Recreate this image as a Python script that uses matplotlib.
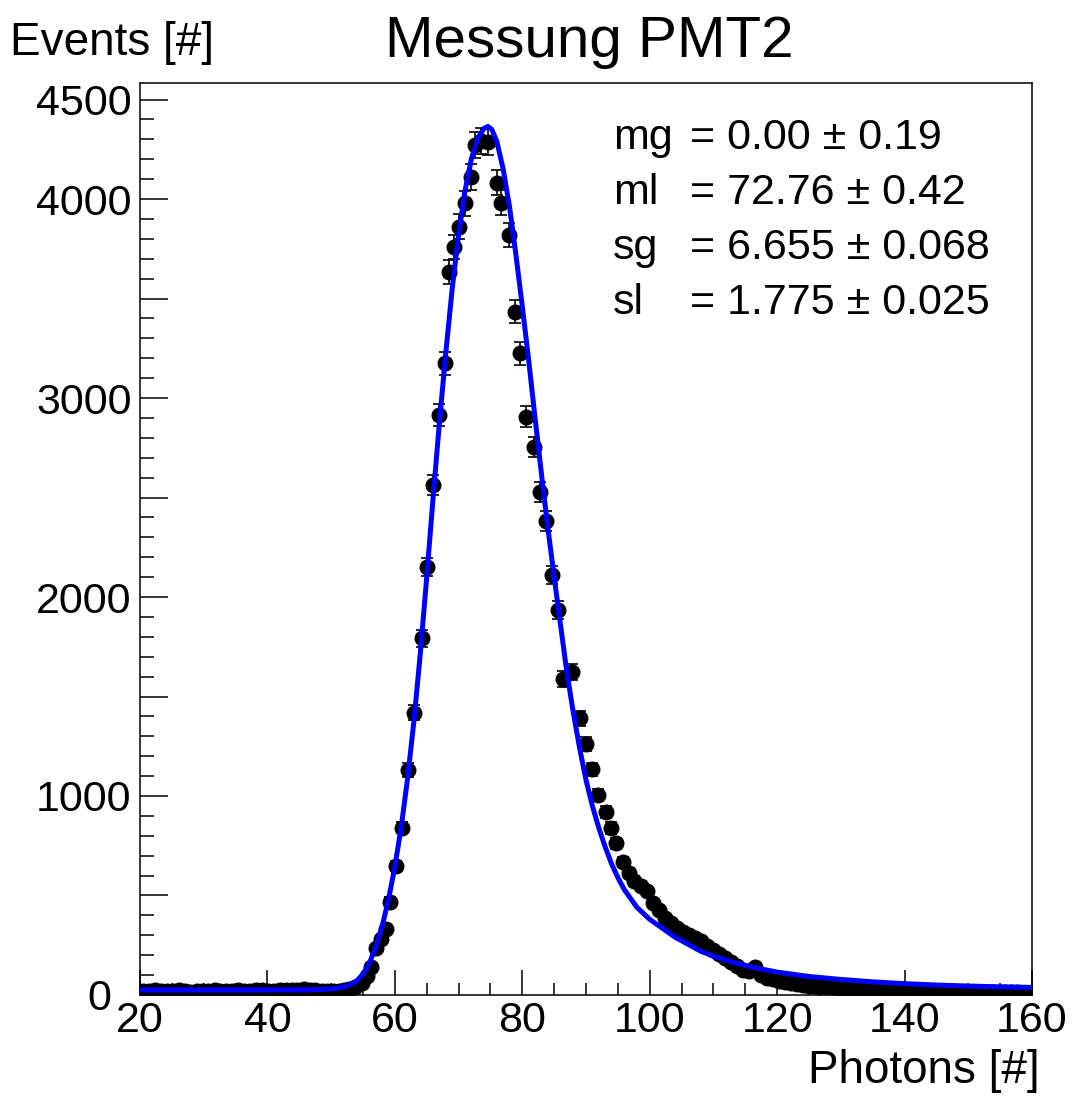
"""
Messung PMT2 - photon spectrum with fit
"""

import numpy as np
import matplotlib
matplotlib.use("Agg")
import matplotlib.pyplot as plt
import matplotlib.transforms as mtransforms

# measured histogram (photons, events)
photons = [20.5, 21.4, 22.3, 23.3, 24.2, 25.1, 26.1, 27.0, 27.9, 28.9,
           29.8, 30.7, 31.7, 32.6, 33.5, 34.5, 35.4, 36.3, 37.3, 38.2,
           39.1, 40.1, 41.0, 41.9, 42.9, 43.8, 44.7, 45.7, 46.6, 47.5,
           48.5, 49.4, 50.3, 51.2, 52.0,
           52.8, 53.75, 54.8, 55.55, 56.33, 57.04, 57.8, 58.61, 59.24, 60.18,
           61.07, 62.02, 63.05, 64.21, 65.09, 66.03, 66.93, 67.87, 68.55, 69.3,
           70.11, 71.01, 71.87, 72.58, 73.5, 74.54, 75.96, 76.58, 77.87, 78.82,
           79.6, 80.51, 81.8, 82.78, 83.77, 84.67, 85.66, 86.32, 87.76, 89.07,
           90.01, 90.95, 91.94, 93.07, 93.9, 94.64, 95.74, 96.7, 97.6, 98.56,
           99.53, 100.47, 101.42, 102.36, 103.3, 104.24, 105.18, 106.12, 107.06, 108.0,
           108.95, 109.89, 110.83, 111.77, 112.71, 113.66, 114.6, 115.54, 116.48, 117.42,
           118.37, 119.31, 120.25, 121.19, 122.13, 123.07, 124.02,
           125.0, 125.9, 126.8, 127.8, 128.7, 129.7, 130.6, 131.5, 132.5, 133.4,
           134.3, 135.3, 136.2, 137.1, 138.1, 139.0, 139.9, 140.9, 141.8, 142.7,
           143.7, 144.6, 145.5, 146.5, 147.4, 148.3, 149.3, 150.2, 151.1, 152.1,
           153.0, 153.9, 154.9, 155.8, 156.7, 157.7, 158.6, 159.5]
events = [22, 20, 24, 19, 21, 18, 23, 20, 17, 22,
          19, 21, 24, 20, 18, 22, 25, 21, 19, 23,
          26, 22, 20, 24, 27, 23, 25, 28, 26, 24,
          22, 21, 20, 22, 24,
          28, 40, 59, 95, 142, 235, 280, 330, 469, 650,
          841, 1131, 1419, 1792, 2152, 2563, 2915, 3174, 3633, 3760,
          3861, 3978, 4112, 4271, 4290, 4288, 4083, 3982, 3819, 3434,
          3224, 2906, 2754, 2529, 2382, 2111, 1935, 1588, 1623, 1390,
          1261, 1134, 1005, 921, 840, 762, 668, 613, 573, 548,
          523, 462, 427, 387, 362, 337, 317, 302, 286, 271,
          246, 226, 206, 186, 166, 146, 126, 121, 140, 100,
          85, 80, 70, 65, 60, 55, 50,
          46, 44, 42, 40, 38, 36, 35, 33, 32, 30,
          29, 28, 27, 26, 25, 24, 23, 22, 22, 21,
          20, 20, 19, 18, 18, 17, 17, 16, 16, 15,
          15, 14, 14, 14, 13, 13, 12, 12]

# fitted curve
fit_x = [20, 30, 40, 46, 49, 51, 52.5, 54, 55, 56, 57, 58, 59, 60, 61, 62, 63, 64,
         65, 66, 67, 68, 69, 70, 71, 72, 73, 74, 74.6, 75.2, 76, 77, 78, 79, 80,
         81, 82, 83, 84, 85, 86, 87, 88, 89, 90, 91, 92, 93, 94, 95, 96, 98, 100,
         102, 104, 106, 108, 110, 113, 116, 120, 125, 130, 135, 140, 145, 150, 155, 160]
fit_y = [25, 25, 25, 26, 28, 34, 45, 70, 105, 160, 240, 345, 480, 645, 845, 1090, 1380, 1720,
         2100, 2500, 2880, 3230, 3550, 3820, 4040, 4200, 4305, 4355, 4365, 4350, 4290, 4150, 3960, 3720, 3460,
         3190, 2900, 2620, 2350, 2100, 1860, 1620, 1420, 1240, 1080, 950, 840, 745, 660, 590, 530, 440, 380,
         335, 290, 255, 220, 195, 165, 140, 115, 93, 78, 66, 57, 50, 45, 41, 38]

fit_labels = ["mg", "ml", "sg", "sl"]
fit_values = ["= 0.00 \u00b1 0.19", "= 72.76 \u00b1 0.42",
              "= 6.655 \u00b1 0.068", "= 1.775 \u00b1 0.025"]

y_ticks = [0, 500, 1000, 1500, 2000, 2500, 3000, 3500, 4000, 4500]
y_ticklabels = ["0", "", "1000", "", "2000", "", "3000", "", "4000", "4500"]


def main():
    plt.rcParams["font.family"] = ["Liberation Sans", "DejaVu Sans"]

    fig = plt.figure(figsize=(10.73, 10.97), dpi=100)
    ax = fig.add_axes([0.1305, 0.093, 0.8313, 0.8313])

    err = np.sqrt(events)
    ax.errorbar(photons, events, yerr=err, fmt="o", color="black",
                markersize=10.5, capsize=4, elinewidth=1.2, capthick=1.2, zorder=2)
    ax.plot(fit_x, fit_y, color="#0000ff", linewidth=3.6, zorder=3)

    ax.set_xlim(20, 160)
    ax.set_ylim(0, 4583)
    ax.set_xticks(range(20, 161, 20))
    ax.set_xticks(range(20, 161, 5), minor=True)
    ax.set_yticks(y_ticks)
    ax.set_yticklabels(y_ticklabels)
    ax.set_yticks(range(0, 4583, 100), minor=True)

    ax.tick_params(axis="both", which="both", direction="in", top=False, right=False,
                   width=1.1, labelsize=31)
    ax.tick_params(axis="y", which="major", length=20, pad=6)
    ax.tick_params(axis="y", which="minor", length=10)
    ax.tick_params(axis="x", which="major", length=18, pad=4)
    ax.tick_params(axis="x", which="minor", length=9)
    for sp in ax.spines.values():
        sp.set_linewidth(1.1)

    # the "0" label sits a little left of the others, next to the "20"
    shift = mtransforms.ScaledTranslation(-20 / 100, 0, fig.dpi_scale_trans)
    for lab in ax.get_yticklabels():
        if lab.get_text() == "0":
            lab.set_transform(lab.get_transform() + shift)

    # fit parameters (no border)
    for i, (lab, val) in enumerate(zip(fit_labels, fit_values)):
        ypos = 0.94 - i * 0.0605
        ax.text(0.530, ypos, lab, transform=ax.transAxes, fontsize=31,
                va="center", ha="left")
        ax.text(0.617, ypos, val, transform=ax.transAxes, fontsize=31,
                va="center", ha="left")

    fig.text(589 / 1073, 1 - 57 / 1097, "Messung PMT2", fontsize=42,
             ha="center", va="baseline")
    fig.text(10 / 1073, 1 - 55 / 1097, "Events [#]", fontsize=33,
             ha="left", va="baseline")
    fig.text(1040 / 1073, 1 - 1083 / 1097, "Photons [#]", fontsize=33,
             ha="right", va="baseline")

    fig.savefig("out.png", dpi=100)
    return 0


if __name__ == '__main__':
    main()
